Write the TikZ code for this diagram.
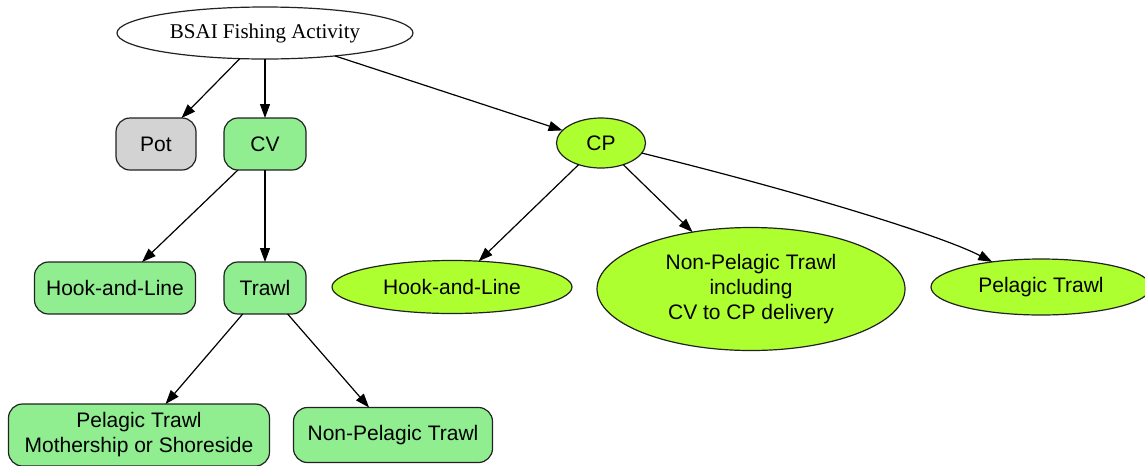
\documentclass[tikz,border=0pt]{standalone}
\usepackage{fontspec}
\setmainfont{Liberation Serif}
\setsansfont{Liberation Sans}
\usetikzlibrary{arrows.meta,shapes.geometric}
\definecolor{lgreen}{HTML}{90EE90}
\definecolor{gyellow}{HTML}{ADFF2F}
\definecolor{lgray}{HTML}{D3D3D3}
\definecolor{edgecol}{HTML}{222222}
\begin{document}
\begin{tikzpicture}[x=0.75pt,y=-0.75pt,
  every node/.style={inner sep=0pt,outer sep=0pt,align=center,text=black,
    font=\sffamily\fontsize{15.75}{18.75}\selectfont},
  boxgreen/.style={draw=edgecol,line width=0.9pt,fill=lgreen,rounded corners=10.5pt},
  boxgray/.style={draw=edgecol,line width=0.9pt,fill=lgray,rounded corners=10.5pt},
  eggnode/.style={ellipse,draw=edgecol,line width=0.9pt,fill=gyellow},
  arr/.style={-{Triangle[length=10.5pt,width=7.5pt]},line width=0.9pt,draw=black}]
\useasboundingbox (0,0) rectangle (1145,465);
\fill[white] (0,0) rectangle (1145,465);
\node[ellipse,draw=edgecol,line width=0.9pt,fill=white,minimum width=222pt,minimum height=39pt,
  font=\rmfamily\fontsize{15.75}{18.75}\selectfont] (root) at (265,33) {BSAI Fishing Activity};
\node[boxgray,minimum width=60pt,minimum height=39pt] (pot) at (156,144) {Pot};
\node[boxgreen,minimum width=61.5pt,minimum height=39pt] (cv) at (265,144) {CV};
\node[eggnode,minimum width=66.75pt,minimum height=37.5pt] (cp) at (601,143) {CP};
\node[boxgreen,minimum width=120.75pt,minimum height=39pt] (hl1) at (115,288) {Hook-and-Line};
\node[boxgreen,minimum width=61.5pt,minimum height=39pt] (trawl) at (265,288) {Trawl};
\node[eggnode,minimum width=180pt,minimum height=39.75pt] (hl2) at (452,287) {Hook-and-Line};
\node[eggnode,minimum width=231pt,minimum height=92.25pt] (np2) at (751,289) {Non-Pelagic Trawl\\including\\CV to CP delivery};
\node[eggnode,minimum width=165pt,minimum height=42pt] (pt2) at (1041,287) {Pelagic Trawl};
\node[boxgreen,minimum width=195.75pt,minimum height=46.5pt] (ptms) at (139,435) {Pelagic Trawl\\Mothership or Shoreside};
\node[boxgreen,minimum width=149.25pt,minimum height=41.25pt] (np1) at (393,435) {Non-Pelagic Trawl};
\coordinate (c1) at (800,192);
\coordinate (c2) at (940,235);
\draw[arr] (root) -- (pot);
\draw[arr] (root) -- (cv);
\draw[arr] (root) -- (cp);
\draw[arr] (cv) -- (hl1);
\draw[arr] (cv) -- (trawl);
\draw[arr] (cp) -- (hl2);
\draw[arr] (cp) -- (np2);
\draw[arr] (cp) .. controls (c1) and (c2) .. (pt2);
\draw[arr] (trawl) -- (ptms);
\draw[arr] (trawl) -- (np1);
\end{tikzpicture}
\end{document}
